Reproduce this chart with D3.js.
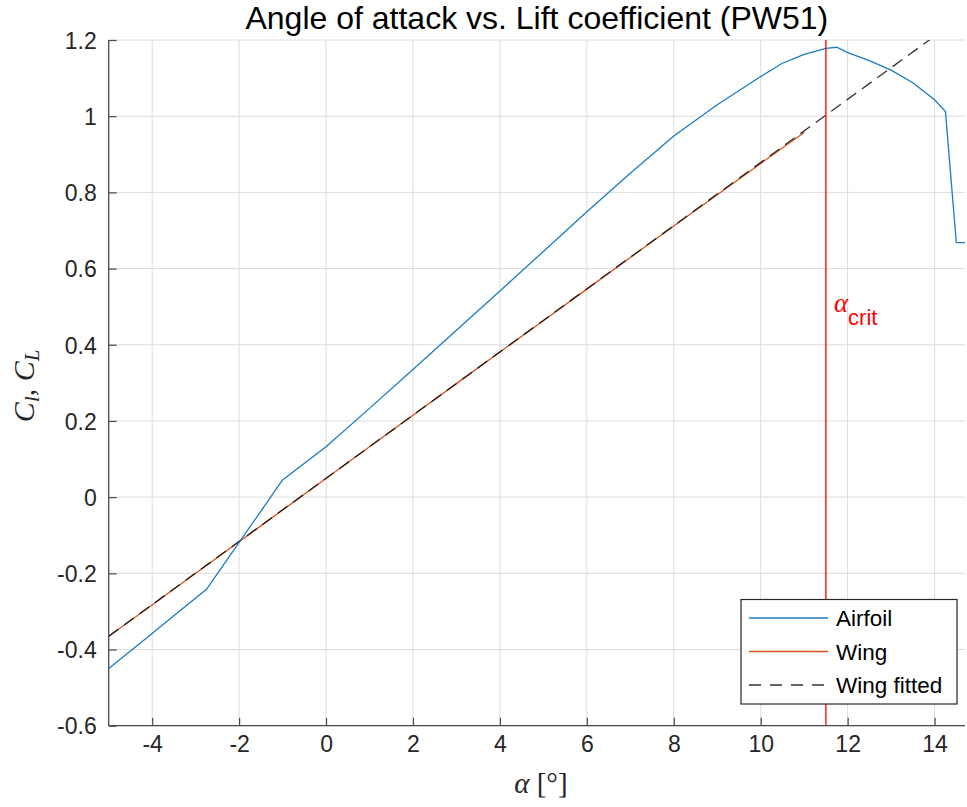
<!DOCTYPE html>
<html>
<head>
<meta charset="utf-8">
<script src="https://cdn.jsdelivr.net/npm/d3@7"></script>
<style>
  html, body { margin: 0; padding: 0; background: #fff; }
  svg { display: block; }
</style>
</head>
<body>
<svg id="chart" width="967" height="807"></svg>
<script>
// ---- data ----
const title = "Angle of attack vs. Lift coefficient (PW51)";
const xTicks = [-4, -2, 0, 2, 4, 6, 8, 10, 12, 14];
const yTicks = [-0.6, -0.4, -0.2, 0, 0.2, 0.4, 0.6, 0.8, 1, 1.2];
const yTickLabels = ["-0.6", "-0.4", "-0.2", "0", "0.2", "0.4", "0.6", "0.8", "1", "1.2"];

const airfoilAlpha = [-5, -4, -3.7, -2.75, -1, 0, 1, 2, 3, 4, 5, 6, 7, 8, 9, 10, 10.5, 11, 11.5, 11.75, 12, 12.5, 13, 13.5, 14, 14.25, 14.5, 14.7];
const airfoilCl    = [-0.45, -0.358, -0.33, -0.242, 0.045, 0.132, 0.233, 0.335, 0.438, 0.541, 0.645, 0.749, 0.85, 0.948, 1.03, 1.104, 1.139, 1.162, 1.178, 1.181, 1.167, 1.146, 1.121, 1.088, 1.043, 1.012, 0.668, 0.668];

const wingAlpha = [-5, -4, -3, -2, -1, 0, 1, 2, 3, 4, 5, 6, 7, 8, 9, 10, 11];
const wingCL    = [-0.365, -0.283, -0.200, -0.117, -0.034, 0.049, 0.132, 0.215, 0.298, 0.381, 0.463, 0.546, 0.629, 0.712, 0.794, 0.876, 0.957];

const fitAlpha = [-5, 15];
const fitCL    = [-0.365, 1.293];

const alphaCrit = 11.5;
const legendLabels = ["Airfoil", "Wing", "Wing fitted"];
const colors = { airfoil: "#1a7cc4", wing: "#D95319", fit: "#000000", crit: "#FF0000" };

// ---- layout ----
const svg = d3.select("#chart");
const M = { left: 108.7, right: 965, top: 40, bottom: 725.7 };
const x = d3.scaleLinear().domain([-5, 14.7]).range([M.left, M.right]);
const y = d3.scaleLinear().domain([-0.6, 1.2]).range([M.bottom, M.top]);
const sans = "'Liberation Sans', Arial, Helvetica, sans-serif";
const serif = "'Liberation Serif', 'DejaVu Serif', serif";

svg.append("defs").append("clipPath").attr("id", "clip")
  .append("rect").attr("x", M.left).attr("y", M.top)
  .attr("width", M.right - M.left).attr("height", M.bottom - M.top);

// grid
const grid = svg.append("g").attr("stroke", "#dcdcdc").attr("stroke-width", 1);
xTicks.forEach(t => grid.append("line")
  .attr("x1", x(t)).attr("x2", x(t)).attr("y1", M.top).attr("y2", M.bottom));
yTicks.forEach(t => grid.append("line")
  .attr("x1", M.left).attr("x2", M.right).attr("y1", y(t)).attr("y2", y(t)));

// axes
const xAxis = d3.axisBottom(x).tickValues(xTicks).tickSizeInner(-8).tickSizeOuter(0).tickPadding(10)
  .tickFormat(d => String(d));
const yAxis = d3.axisLeft(y).tickValues(yTicks).tickSizeInner(-8).tickSizeOuter(0).tickPadding(12)
  .tickFormat((d, i) => yTickLabels[i]);

const gx = svg.append("g").attr("transform", `translate(0,${M.bottom})`).call(xAxis);
const gy = svg.append("g").attr("transform", `translate(${M.left},0)`).call(yAxis);
[gx, gy].forEach(g => {
  g.select(".domain").attr("stroke", "#4a4a4a").attr("stroke-width", 1.3);
  g.selectAll(".tick line").attr("stroke", "#4a4a4a").attr("stroke-width", 1.2);
  g.selectAll(".tick text").attr("fill", "#262626").attr("font-family", sans).attr("font-size", 23);
});
gx.select(".domain").attr("d", `M${M.left},0H${M.right}`);
gy.select(".domain").attr("d", `M0,${M.bottom}V${M.top}`);
gy.selectAll(".tick text").attr("dy", "0.36em");

// lines
const plot = svg.append("g").attr("clip-path", "url(#clip)");
const line = d3.line().x(d => x(d[0])).y(d => y(d[1]));

plot.append("path").datum(wingAlpha.map((a, i) => [a, wingCL[i]]))
  .attr("d", line).attr("fill", "none").attr("stroke", colors.wing).attr("stroke-width", 1.3);
plot.append("path").datum(fitAlpha.map((a, i) => [a, fitCL[i]]))
  .attr("d", line).attr("fill", "none").attr("stroke", colors.fit).attr("stroke-width", 1.3)
  .attr("stroke-dasharray", "12,7").attr("opacity", 0.8);
plot.append("path").datum(airfoilAlpha.map((a, i) => [a, airfoilCl[i]]))
  .attr("d", line).attr("fill", "none").attr("stroke", colors.airfoil).attr("stroke-width", 1.3);
plot.append("line")
  .attr("x1", x(alphaCrit)).attr("x2", x(alphaCrit)).attr("y1", M.top).attr("y2", M.bottom)
  .attr("stroke", colors.crit).attr("stroke-width", 1.3);

// alpha_crit label
const crit = svg.append("text").attr("x", x(alphaCrit) + 8).attr("y", 312).attr("fill", colors.crit);
crit.append("tspan").attr("font-family", serif).attr("font-style", "italic").attr("font-size", 27).text("α");
crit.append("tspan").attr("font-family", sans).attr("font-size", 22).attr("dy", 13).text("crit");

// title
svg.append("text").attr("x", (M.left + M.right) / 2).attr("y", 29)
  .attr("text-anchor", "middle").attr("font-family", sans).attr("font-size", 32)
  .attr("fill", "#000").text(title);

// x label
const xl = svg.append("text").attr("x", (M.left + M.right) / 2 + 4).attr("y", 793)
  .attr("text-anchor", "middle").attr("fill", "#262626");
xl.append("tspan").attr("font-family", serif).attr("font-style", "italic").attr("font-size", 29).text("α");
xl.append("tspan").attr("font-family", serif).attr("font-size", 29).text(" [°]");

// y label
const yl = svg.append("text").attr("transform", `translate(34,${(M.top + M.bottom) / 2 + 3}) rotate(-90)`)
  .attr("text-anchor", "middle").attr("fill", "#262626").attr("font-family", serif).attr("font-size", 30);
yl.append("tspan").attr("font-style", "italic").text("C");
yl.append("tspan").attr("font-style", "italic").attr("font-size", 21).attr("dy", 5).text("l");
yl.append("tspan").attr("dy", -5).text(", ");
yl.append("tspan").attr("font-style", "italic").text("C");
yl.append("tspan").attr("font-style", "italic").attr("font-size", 21).attr("dy", 5).text("L");

// legend
const lg = svg.append("g");
lg.append("rect").attr("x", 741).attr("y", 599.5).attr("width", 216).attr("height", 104.5)
  .attr("fill", "#fff").attr("stroke", "#262626").attr("stroke-width", 1.2);
const legRows = [
  { label: legendLabels[0], color: colors.airfoil, dash: null },
  { label: legendLabels[1], color: colors.wing, dash: null },
  { label: legendLabels[2], color: "#333", dash: "12,9" }
];
legRows.forEach((r, i) => {
  const yy = 618 + i * 33.5;
  const l = lg.append("line").attr("x1", 749).attr("x2", 828).attr("y1", yy).attr("y2", yy)
    .attr("stroke", r.color).attr("stroke-width", 1.3);
  if (r.dash) l.attr("stroke-dasharray", r.dash);
  lg.append("text").attr("x", 836).attr("y", yy).attr("dy", "0.36em")
    .attr("font-family", sans).attr("font-size", 22.5).attr("fill", "#000").text(r.label);
});
</script>
</body>
</html>
